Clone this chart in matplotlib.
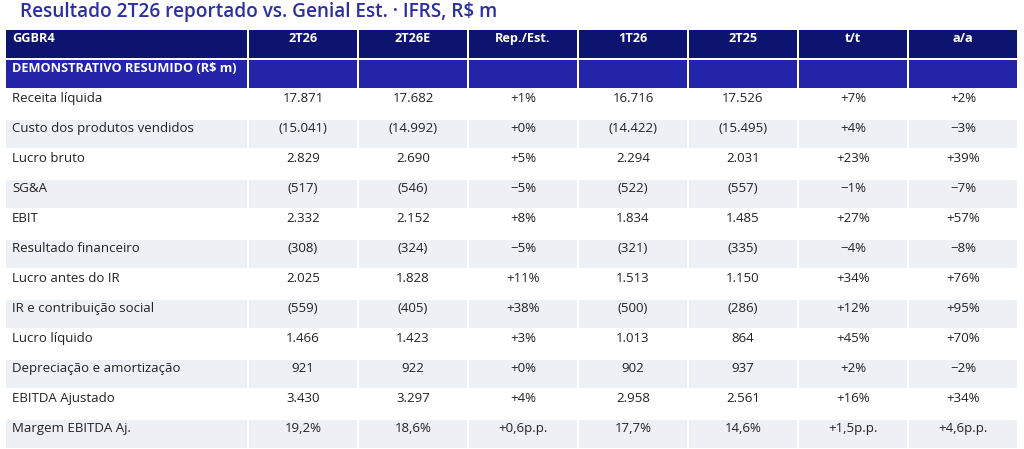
import matplotlib.pyplot as plt
from matplotlib.patches import Rectangle

plt.rcParams['font.family'] = ['Open Sans', 'DejaVu Sans']

title = "Resultado 2T26 reportado vs. Genial Est. · IFRS, R$ m"
ticker = "GGBR4"
section = "DEMONSTRATIVO RESUMIDO (R$ m)"
columns = ["2T26", "2T26E", "Rep./Est.", "1T26", "2T25", "t/t", "a/a"]

rows = ["Receita líquida", "Custo dos produtos vendidos", "Lucro bruto", "SG&A", "EBIT",
        "Resultado financeiro", "Lucro antes do IR", "IR e contribuição social",
        "Lucro líquido", "Depreciação e amortização", "EBITDA Ajustado", "Margem EBITDA Aj."]

# R$ m (last item = margin in %)
rep_2t26 = [17871, -15041, 2829, -517, 2332, -308, 2025, -559, 1466, 921, 3430, 19.2]
est_2t26 = [17682, -14992, 2690, -546, 2152, -324, 1828, -405, 1423, 922, 3297, 18.6]
val_1t26 = [16716, -14422, 2294, -522, 1834, -321, 1513, -500, 1013, 902, 2958, 17.7]
val_2t25 = [17526, -15495, 2031, -557, 1485, -335, 1150, -286, 864, 937, 2561, 14.6]
# variations in % (last item = p.p.)
rep_vs_est = [1, 0, 5, -5, 8, -5, 11, 38, 3, 0, 4, 0.6]
var_tt = [7, 4, 23, -1, 27, -4, 34, 12, 45, 2, 16, 1.5]
var_aa = [2, -3, 39, -7, 57, -8, 76, 95, 70, -2, 34, 4.6]

NAVY = '#0d1470'
BLUE = '#2424a8'
SHADE = '#edf0f5'
TXT = '#222222'
FS = 9.5
FS_HEAD = 9.2


def fmt_val(v, margin):
    if margin:
        return f"{v:.1f}".replace('.', ',') + "%"
    s = f"{abs(v):,.0f}".replace(',', '.')
    return f"({s})" if v < 0 else s


def fmt_var(v, margin):
    sign = '−' if v < 0 else '+'
    if margin:
        return sign + f"{abs(v):.1f}".replace('.', ',') + "p.p."
    return sign + f"{abs(v):.0f}%"


fig = plt.figure(figsize=(10.24, 4.49), dpi=100)
ax = fig.add_axes([0, 0, 1, 1])
ax.set_xlim(0, 1024)
ax.set_ylim(449, 0)
ax.axis('off')

ax.text(20, 11.5, title, fontsize=13.7, color='#2b2fa2', fontweight='semibold', va='center', ha='left')

# layout
widths = [243] + [110] * 7
x0, gap = 5, 1
lefts = []
x = x0
for w in widths:
    lefts.append(x)
    x += w
row_h = 30
top0 = 29

series = [rep_2t26, est_2t26, rep_vs_est, val_1t26, val_2t25, var_tt, var_aa]
is_var = [False, False, True, False, False, True, True]

# header rows
for r, (color, first) in enumerate([(NAVY, ticker), (BLUE, section)]):
    top = top0 + r * row_h
    for c, (l, w) in enumerate(zip(lefts, widths)):
        ax.add_patch(Rectangle((l + gap, top + gap), w - 2 * gap, row_h - 2 * gap,
                               facecolor=color, edgecolor='none'))
        if c == 0:
            ax.text(l + 7, top + 9.5, first, fontsize=FS_HEAD, color='white', fontweight='bold',
                    va='center', ha='left')
        elif r == 0:
            ax.text(l + w / 2, top + 9.5, columns[c - 1], fontsize=FS_HEAD, color='white',
                    fontweight='bold', va='center', ha='center')

# body
for i, name in enumerate(rows):
    top = top0 + (i + 2) * row_h
    margin = i == len(rows) - 1
    for c, (l, w) in enumerate(zip(lefts, widths)):
        if i % 2 == 1:
            ax.add_patch(Rectangle((l + gap, top + gap), w - 2 * gap, row_h - 2 * gap,
                                   facecolor=SHADE, edgecolor='none'))
        if c == 0:
            ax.text(l + 7, top + 9.5, name, fontsize=FS, color=TXT, va='center', ha='left')
        else:
            v = series[c - 1][i]
            s = fmt_var(v, margin) if is_var[c - 1] else fmt_val(v, margin)
            ax.text(l + w / 2, top + 9.5, s, fontsize=FS, color=TXT, va='center', ha='center')

fig.savefig('out.png', dpi=100)
